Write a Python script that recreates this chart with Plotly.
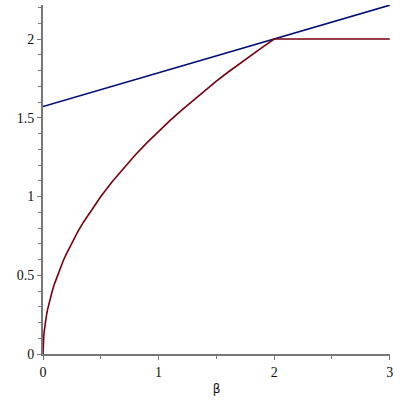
import plotly.graph_objects as go

# values
beta_curve = [0, 0.0005, 0.001, 0.002, 0.004, 0.007, 0.01, 0.015, 0.02, 0.03, 0.04, 0.05,
              0.065, 0.08, 0.1, 0.125, 0.15, 0.175, 0.2, 0.25, 0.3, 0.35, 0.4, 0.45, 0.5,
              0.6, 0.7, 0.8, 0.9, 1.0, 1.1, 1.2, 1.3, 1.4, 1.5, 1.6, 1.7, 1.8, 1.9, 2.0, 3.0]
y_curve = [0, 0.032, 0.045, 0.063, 0.089, 0.118, 0.141, 0.173, 0.2, 0.245, 0.283, 0.316,
           0.361, 0.4, 0.447, 0.5, 0.548, 0.592, 0.632, 0.707, 0.775, 0.837, 0.894, 0.949,
           1.0, 1.095, 1.183, 1.265, 1.342, 1.414, 1.483, 1.549, 1.612, 1.673, 1.732, 1.789,
           1.844, 1.897, 1.949, 2.0, 2.0]

beta_line = [0, 3]
y_line = [1.571, 2.215]

fig = go.Figure()
fig.add_trace(go.Scatter(x=beta_line, y=y_line, mode="lines",
                         line=dict(color="#000E78", width=1.6)))
fig.add_trace(go.Scatter(x=beta_curve, y=y_curve, mode="lines",
                         line=dict(color="#78000E", width=1.6)))

axis_common = dict(
    showgrid=False, zeroline=False, showline=True, linecolor="#777777", linewidth=2,
    ticks="outside", ticklen=4, tickcolor="#777777", tickwidth=1, automargin=False,
    tickfont=dict(family="Times New Roman, Liberation Serif, serif", size=14, color="#111111"),
)

fig.update_layout(
    width=400, height=400, showlegend=False,
    plot_bgcolor="white", paper_bgcolor="white",
    margin=dict(l=43, r=10, t=5, b=46),
    xaxis=dict(range=[0, 3.002], dtick=1, tick0=0,
               minor=dict(dtick=0.5, ticks="outside", ticklen=3, tickcolor="#777777"),
               title=dict(text="β", font=dict(family="DejaVu Sans", size=12, color="#111111"),
                          standoff=6),
               **axis_common),
    yaxis=dict(range=[0, 2.216], dtick=0.5, tick0=0,
               minor=dict(dtick=0.1, ticks="outside", ticklen=3, tickcolor="#777777"),
               **axis_common),
)

# drop the default page margin so the 400x400 figure fills the window
fig.write_html("out.html", config={"displayModeBar": False},
               post_script="document.body.style.margin='0';document.body.style.overflow='hidden';")
